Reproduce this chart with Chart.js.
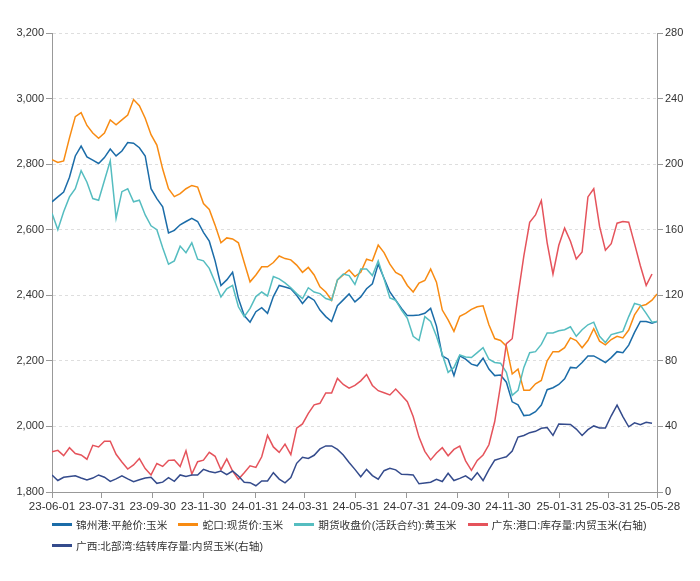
<!DOCTYPE html>
<html>
<head>
<meta charset="utf-8">
<script src="https://cdn.jsdelivr.net/npm/chart.js@4.4.1/dist/chart.umd.min.js"></script>
<style>
  html, body { margin: 0; padding: 0; background: #fff; }
  #wrap { position: relative; width: 700px; height: 581px; }
  #legend { position: absolute; left: 52px; top: 514px; width: 640px;
            font: 10.7px 'Liberation Sans', 'Noto Sans CJK SC', sans-serif; color: #333; }
  .row { display: flex; align-items: center; height: 21px; }
  .item { display: flex; align-items: center; margin-right: 11px; white-space: nowrap; }
  .sw { width: 20px; height: 3px; margin-right: 4px; }
</style>
</head>
<body>
<div id="wrap">
  <canvas id="chart" width="700" height="581"></canvas>
  <div id="legend"></div>
</div>
<script>
// weekly dates
const dates = [
  '2023-06-01','2023-06-08','2023-06-15','2023-06-22','2023-06-29','2023-07-06','2023-07-13','2023-07-20','2023-07-27','2023-08-03',
  '2023-08-10','2023-08-17','2023-08-24','2023-08-31','2023-09-07','2023-09-14','2023-09-21','2023-09-28','2023-10-05','2023-10-12',
  '2023-10-19','2023-10-26','2023-11-02','2023-11-09','2023-11-16','2023-11-23','2023-11-30','2023-12-07','2023-12-14','2023-12-21',
  '2023-12-28','2024-01-04','2024-01-11','2024-01-18','2024-01-25','2024-02-01','2024-02-08','2024-02-15','2024-02-22','2024-02-29',
  '2024-03-07','2024-03-14','2024-03-21','2024-03-28','2024-04-04','2024-04-11','2024-04-18','2024-04-25','2024-05-02','2024-05-09',
  '2024-05-16','2024-05-23','2024-05-30','2024-06-06','2024-06-13','2024-06-20','2024-06-27','2024-07-04','2024-07-11','2024-07-18',
  '2024-07-25','2024-08-01','2024-08-08','2024-08-15','2024-08-22','2024-08-29','2024-09-05','2024-09-12','2024-09-19','2024-09-26',
  '2024-10-03','2024-10-10','2024-10-17','2024-10-24','2024-10-31','2024-11-07','2024-11-14','2024-11-21','2024-11-28','2024-12-05',
  '2024-12-12','2024-12-19','2024-12-26','2025-01-02','2025-01-09','2025-01-16','2025-01-23','2025-01-30','2025-02-06','2025-02-13',
  '2025-02-20','2025-02-27','2025-03-06','2025-03-13','2025-03-20','2025-03-27','2025-04-03','2025-04-10','2025-04-17','2025-04-24',
  '2025-05-01','2025-05-08','2025-05-15','2025-05-22','2025-05-28'
];

const tickDates = ['2023-06-01','2023-07-31','2023-09-30','2023-11-30','2024-01-31','2024-03-31','2024-05-31',
                   '2024-07-31','2024-09-30','2024-11-30','2025-01-31','2025-03-31','2025-05-28'];
const tickLabels = ['23-06-01','23-07-31','23-09-30','23-11-30','24-01-31','24-03-31','24-05-31',
                    '24-07-31','24-09-30','24-11-30','25-01-31','25-03-31','25-05-28'];

// 锦州港:平舱价:玉米 (左轴)
const jinzhou = [
  2685,2700,2715,2760,2825,2855,2822,2812,2802,2820,
  2846,2825,2840,2866,2864,2850,2825,2725,2695,2670,
  2590,2598,2615,2625,2635,2625,2592,2565,2505,2430,
  2447,2470,2390,2338,2318,2350,2362,2345,2396,2430,
  2425,2420,2400,2375,2396,2385,2355,2335,2320,2368,
  2386,2404,2380,2395,2420,2435,2495,2452,2410,2385,
  2360,2338,2338,2340,2345,2360,2306,2215,2205,2155,
  2215,2205,2190,2185,2208,2175,2155,2157,2135,2075,
  2066,2033,2035,2045,2065,2112,2118,2128,2145,2180,
  2178,2195,2215,2215,2205,2195,2210,2228,2225,2248,
  2287,2320,2320,2315,2320
];
// 蛇口:现货价:玉米
const shekou = [
  2814,2805,2810,2880,2945,2957,2918,2895,2879,2895,
  2935,2920,2935,2950,2997,2978,2940,2890,2858,2785,
  2725,2701,2710,2725,2735,2730,2680,2662,2614,2560,
  2575,2572,2560,2500,2441,2462,2487,2487,2500,2520,
  2512,2508,2492,2470,2485,2462,2426,2410,2385,2447,
  2462,2477,2457,2470,2510,2505,2553,2530,2495,2470,
  2460,2430,2410,2437,2445,2480,2440,2355,2325,2290,
  2336,2345,2357,2365,2368,2310,2268,2262,2245,2160,
  2175,2110,2110,2130,2140,2200,2228,2228,2240,2270,
  2262,2240,2262,2298,2260,2249,2265,2275,2270,2294,
  2340,2367,2372,2385,2404
];
// 期货收盘价(活跃合约):黄玉米
const futures = [
  2650,2600,2655,2700,2725,2780,2745,2695,2690,2750,
  2810,2635,2716,2725,2685,2690,2645,2612,2600,2545,
  2495,2505,2550,2530,2560,2510,2505,2482,2440,2395,
  2420,2430,2365,2335,2360,2396,2410,2398,2457,2450,
  2438,2423,2405,2390,2423,2410,2405,2390,2385,2447,
  2465,2460,2433,2480,2480,2460,2505,2450,2392,2385,
  2355,2330,2275,2262,2335,2320,2275,2220,2165,2180,
  2218,2212,2210,2225,2240,2205,2195,2193,2165,2095,
  2110,2180,2225,2228,2250,2285,2285,2292,2295,2304,
  2275,2295,2310,2318,2275,2256,2280,2285,2290,2335,
  2375,2370,2345,2318,2320
];
// 广东:港口:库存量:内贸玉米 (右轴)
const guangdong = [
  24.6,25.4,22.2,27,23.5,22.6,20,28.5,27.5,31,
  31,23,18.3,14,16.5,20.4,14.3,10.4,17.4,15.6,
  19.3,19.5,15.5,25.2,10.9,18.5,19.4,24.2,21.8,13.6,
  20.2,12.8,7.8,11.8,16,15,21.5,34.5,27.5,24.2,
  29.2,22.8,38.9,41.5,48,53.2,54.1,60.4,60.4,69.3,
  65.6,63.4,65,67.8,71.7,65,61.8,60.5,59.2,62.8,
  59,55.1,46,33.5,24.8,19.6,23.8,27,22.1,26,
  28,19,13.2,19.3,22.6,28.8,43,65,90.5,93.5,
  120,144,164.5,169,177.8,152,133,150.5,161,153,
  142.2,146.4,180,185,162,147.5,151.5,164,165,164.6,
  151.5,138,126,133,null
];
// 广西:北部湾:结转库存量:内贸玉米 (右轴)
const guangxi = [
  10.4,7,9,9.5,9.9,8.5,7.3,8.5,10.4,9,
  6.5,8,9.8,8,6.3,7.5,8.5,9,5.3,6,
  8.8,6.5,10.4,9.5,10.4,10.4,13.8,12.5,11.8,12.8,
  10.6,12.8,9.8,6,5.7,3.8,6.7,6.7,11.8,7.9,
  5.6,8.8,17.5,21.2,20.5,22.4,26.3,28.1,28.1,26,
  22.6,18,13.8,9.3,13.8,10,7.8,13,14.4,13.5,
  10.8,10.6,10.4,5,5.5,6,7.7,6.4,11.4,7,
  8.3,9.9,7.4,11.8,7,13.6,19.4,20.5,21.5,25,
  33.5,34.5,36.2,37,38.9,39.3,34.5,41.5,41.4,41.2,
  38.4,34.5,38,40.3,39,39,46.5,53,46,39.8,
  42.2,41,42.5,41.9,null
];

const FONT = "'Liberation Sans', 'Noto Sans CJK SC', sans-serif";
const AXIS = '#999';

// jours depuis le début
const t0 = Date.parse(dates[0]);
const dayOf = d => Math.round((Date.parse(d) - t0) / 86400000);
const toPoints = vals => vals.map((v, i) => ({ x: dayOf(dates[i]), y: v }));

const series = [
  { label: '锦州港:平舱价:玉米', values: jinzhou, color: '#1b6ca8', axis: 'y' },
  { label: '蛇口:现货价:玉米', values: shekou, color: '#f88b12', axis: 'y' },
  { label: '期货收盘价(活跃合约):黄玉米', values: futures, color: '#55bdc0', axis: 'y' },
  { label: '广东:港口:库存量:内贸玉米(右轴)', values: guangdong, color: '#e5535b', axis: 'y1' },
  { label: '广西:北部湾:结转库存量:内贸玉米(右轴)', values: guangxi, color: '#344b8c', axis: 'y1' }
];

const datasets = series.map((s, i) => ({
  label: s.label,
  data: toPoints(s.values),
  yAxisID: s.axis,
  borderColor: s.color,
  backgroundColor: s.color,
  borderWidth: 1.5,
  pointRadius: 0,
  tension: 0,
  order: series.length - i
}));

const tickFont = size => ({ size: size, family: FONT });

const chart = new Chart(document.getElementById('chart'), {
  type: 'line',
  data: { datasets: datasets },
  options: {
    responsive: false,
    animation: false,
    events: [],
    layout: { padding: { top: 33, left: 0, right: 0, bottom: 65 } },
    plugins: { legend: { display: false }, tooltip: { enabled: false } },
    scales: {
      x: {
        type: 'linear',
        min: 0,
        max: dayOf('2025-05-28'),
        afterBuildTicks: s => { s.ticks = tickDates.map(d => ({ value: dayOf(d) })); },
        afterFit: s => { s.height = 24; },
        ticks: {
          autoSkip: false, maxRotation: 0, minRotation: 0, padding: 2,
          color: '#333', font: tickFont(11.6),
          callback: (v, i) => tickLabels[i]
        },
        grid: { drawOnChartArea: false, drawTicks: true, tickLength: 6, tickColor: AXIS },
        border: { display: true, color: AXIS, width: 1 }
      },
      y: {
        position: 'left',
        min: 1800, max: 3200,
        afterFit: s => { s.width = 52; },
        ticks: {
          stepSize: 200, padding: 2, color: '#333', font: tickFont(11),
          callback: v => v.toLocaleString('en-US')
        },
        grid: { color: '#dedede', tickColor: AXIS, tickLength: 6 },
        border: { display: true, color: AXIS, width: 1, dash: [3, 3] }
      },
      y1: {
        position: 'right',
        min: 0, max: 280,
        afterFit: s => { s.width = 43; },
        ticks: { stepSize: 40, padding: 2, color: '#333', font: tickFont(11) },
        grid: { drawOnChartArea: false, tickColor: AXIS, tickLength: 6 },
        border: { display: true, color: AXIS, width: 1 }
      }
    }
  }
});

// Légende HTML (deux lignes comme l'original)
const legendRows = [[0, 1, 2, 3], [4]];
const legendEl = document.getElementById('legend');
legendRows.forEach(row => {
  const rowEl = document.createElement('div');
  rowEl.className = 'row';
  row.forEach(i => {
    const ds = chart.data.datasets[i];
    const item = document.createElement('div');
    item.className = 'item';
    const sw = document.createElement('span');
    sw.className = 'sw';
    sw.style.background = ds.borderColor;
    const txt = document.createElement('span');
    txt.textContent = ds.label;
    item.appendChild(sw);
    item.appendChild(txt);
    rowEl.appendChild(item);
  });
  legendEl.appendChild(rowEl);
});
</script>
</body>
</html>
